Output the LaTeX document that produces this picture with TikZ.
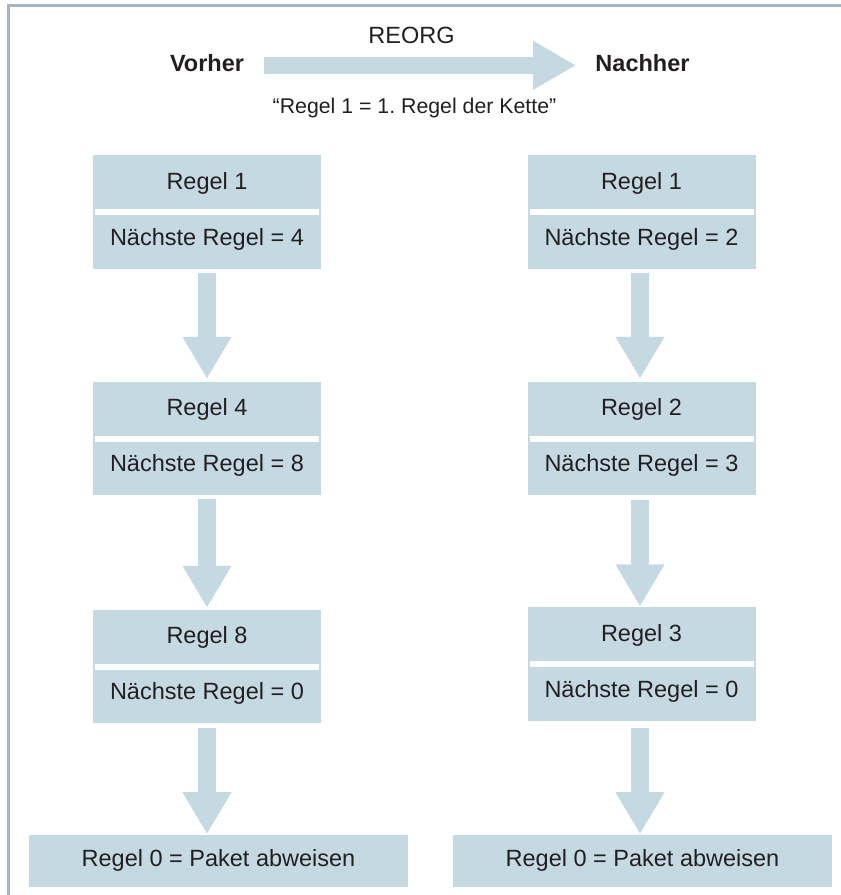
\documentclass[tikz,border=0pt]{standalone}
\usepackage{fontspec}
\setmainfont{Liberation Sans}
\usetikzlibrary{arrows.meta}
\definecolor{boxblue}{RGB}{197,217,227}
\definecolor{framec}{RGB}{164,178,203}
\definecolor{txt}{RGB}{35,31,32}
\frenchspacing
\begin{document}
\begin{tikzpicture}[x=1pt,y=-1pt,
  rulebox/.style={fill=boxblue, minimum width=228pt, minimum height=113.5pt, inner sep=0pt, outer sep=0pt},
  endbox/.style={fill=boxblue, minimum width=379pt, minimum height=52pt, inner sep=0pt, outer sep=0pt},
  lbl/.style={font=\fontsize{23.5}{28}\selectfont, text=txt, anchor=base, inner sep=0pt},
  smalllbl/.style={font=\fontsize{21.3}{26}\selectfont, text=txt, anchor=base, inner sep=0pt},
  headlbl/.style={font=\fontsize{23.5}{28}\selectfont\bfseries, text=txt, anchor=base, inner sep=0pt},
  sepline/.style={draw=white, line width=6pt},
  fatarrow/.style={draw=boxblue, line width=18pt, -{Triangle[width=46pt,length=42pt]}},
  framestyle/.style={draw=framec, line width=3pt}]
\useasboundingbox (0,0) rectangle (841,895);
% frame
\draw[framestyle] (8,895) -- (8,5.3) -- (841,5.3);

% header
\node[headlbl] (vor) at (207,71.7) {Vorher};
\node[headlbl] (nach) at (642.5,71.7) {Nachher};
\node[lbl] (reorg) at (411.5,43.3) {REORG};
\node[smalllbl] (quote) at (414.5,113.3) {“Regel 1 = 1. Regel der Kette”};
\coordinate (a0) at (264,65.3);
\coordinate (a1) at (576,65.3);
\draw[fatarrow, draw=boxblue, line width=17.5pt, -{Triangle[width=46pt,length=43pt]}] (a0) -- (a1);

% left column
\node[rulebox] (L1) at (207,212) {};
\node[rulebox] (L2) at (207,438.5) {};
\node[rulebox] (L3) at (207,666.5) {};
\node[endbox] (L4) at (218.5,861.2) {};
% right column
\node[rulebox] (R1) at (641.5,212) {};
\node[rulebox] (R2) at (641.5,438.5) {};
\node[rulebox] (R3) at (641.5,664.2) {};
\node[endbox] (R4) at (642.5,861.2) {};

% separators
\foreach \b in {L1,L2,L3,R1,R2,R3}{
  \draw[sepline] ([xshift=2pt]\b.west) -- ([xshift=-2pt]\b.east);
}

% labels
\node[lbl] (L1t) at ([yshift=23pt]L1.center) {Regel 1};
\node[lbl] (L1b) at ([yshift=-33pt]L1.center) {Nächste Regel = 4};
\node[lbl] (L2t) at ([yshift=23pt]L2.center) {Regel 4};
\node[lbl] (L2b) at ([yshift=-33pt]L2.center) {Nächste Regel = 8};
\node[lbl] (L3t) at ([yshift=23pt]L3.center) {Regel 8};
\node[lbl] (L3b) at ([yshift=-33pt]L3.center) {Nächste Regel = 0};
\node[lbl] (L4t) at ([yshift=-5.5pt]L4.center) {Regel 0 = Paket abweisen};

\node[lbl] (R1t) at ([yshift=23pt]R1.center) {Regel 1};
\node[lbl] (R1b) at ([yshift=-33pt]R1.center) {Nächste Regel = 2};
\node[lbl] (R2t) at ([yshift=23pt]R2.center) {Regel 2};
\node[lbl] (R2b) at ([yshift=-33pt]R2.center) {Nächste Regel = 3};
\node[lbl] (R3t) at ([yshift=23pt]R3.center) {Regel 3};
\node[lbl] (R3b) at ([yshift=-33pt]R3.center) {Nächste Regel = 0};
\node[lbl] (R4t) at ([yshift=-5.5pt]R4.center) {Regel 0 = Paket abweisen};

% arrows
\draw[fatarrow, shorten <=4pt, shorten >=3pt] (L1.south) -- (L2.north);
\draw[fatarrow, shorten <=4pt, shorten >=2pt] (L2.south) -- (L3.north);
\draw[fatarrow, shorten <=4.5pt, shorten >=1pt] (L3.south) -- (L3.south |- L4.north);
\draw[fatarrow, shorten <=4pt, shorten >=3pt] ([xshift=-1.5pt]R1.south) -- ([xshift=-1.5pt]R2.north);
\draw[fatarrow, shorten <=4.5pt, shorten >=1pt] ([xshift=-1.5pt]R2.south) -- ([xshift=-1.5pt]R3.north);
\draw[fatarrow, shorten <=7pt, shorten >=1pt] ([xshift=-1.5pt]R3.south) -- ([xshift=-1.5pt]R3.south |- R4.north);
\end{tikzpicture}
\end{document}
